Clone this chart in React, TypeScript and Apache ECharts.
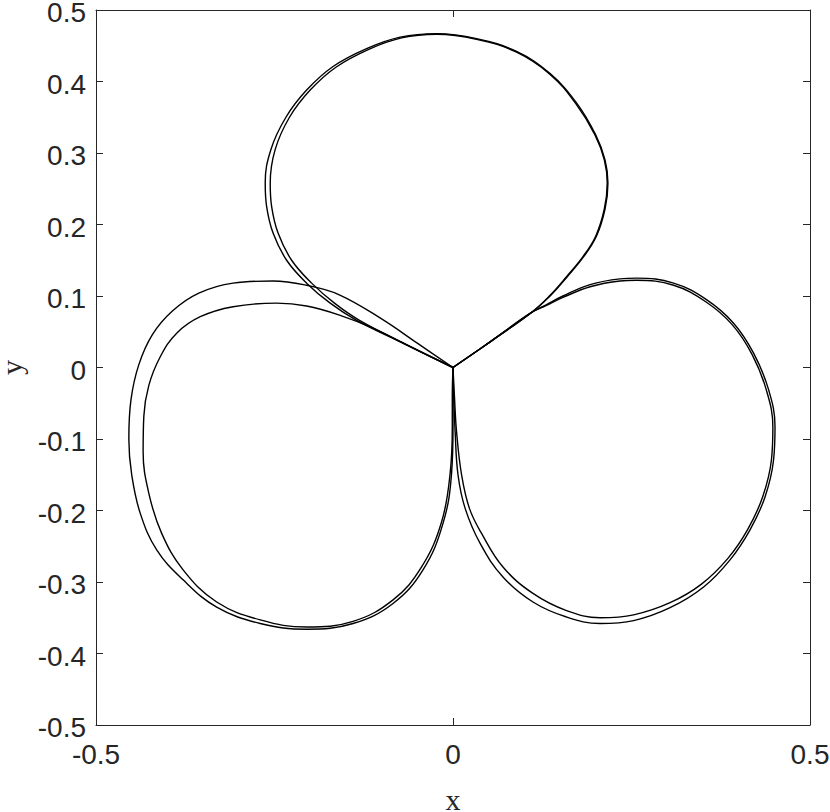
import React, { useEffect, useRef } from "react";
import * as echarts from "echarts";

// Tick values and labels
const xTickValues = [-0.5, 0, 0.5];
const xTickLabels = ["-0.5", "0", "0.5"];
const yTickValues = [-0.5, -0.4, -0.3, -0.2, -0.1, 0, 0.1, 0.2, 0.3, 0.4, 0.5];
const yTickLabels = ["-0.5", "-0.4", "-0.3", "-0.2", "-0.1", "0", "0.1", "0.2", "0.3", "0.4", "0.5"];

// Top lobe, first pass (outer on the left side)
const topLobeA: number[][] = [
  [0, 0], [-0.068, 0.033], [-0.135, 0.066], [-0.172, 0.09], [-0.205, 0.118],
  [-0.233, 0.15], [-0.252, 0.188], [-0.261, 0.225], [-0.263, 0.258], [-0.255, 0.305],
  [-0.234, 0.35], [-0.205, 0.388], [-0.168, 0.421], [-0.121, 0.446], [-0.074, 0.462],
  [-0.023, 0.467], [0.033, 0.46], [0.089, 0.442], [0.136, 0.411], [0.173, 0.37],
  [0.2, 0.325], [0.213, 0.29], [0.217, 0.258], [0.213, 0.222], [0.201, 0.184],
  [0.183, 0.155], [0.16, 0.127], [0.136, 0.1], [0.11, 0.077], [0.055, 0.038], [0, 0],
];

// Top lobe, second pass (inner on the left side)
const topLobeB: number[][] = [
  [0, 0], [-0.067, 0.033], [-0.131, 0.066], [-0.166, 0.09], [-0.198, 0.118],
  [-0.226, 0.15], [-0.245, 0.188], [-0.254, 0.225], [-0.256, 0.258], [-0.249, 0.305],
  [-0.229, 0.35], [-0.2, 0.388], [-0.164, 0.42], [-0.118, 0.445], [-0.072, 0.461],
  [-0.023, 0.466], [0.033, 0.459], [0.089, 0.441], [0.136, 0.41], [0.172, 0.369],
  [0.199, 0.325], [0.212, 0.29], [0.216, 0.258], [0.212, 0.222], [0.2, 0.184],
  [0.182, 0.155], [0.159, 0.127], [0.135, 0.1], [0.11, 0.077], [0.055, 0.038], [0, 0],
];

// Right lobe, first pass (outer)
const rightLobeA: number[][] = [
  [0, 0], [0.055, 0.038], [0.11, 0.077], [0.131, 0.088], [0.154, 0.1], [0.192, 0.116],
  [0.234, 0.124], [0.257, 0.125], [0.309, 0.118], [0.355, 0.095], [0.393, 0.062],
  [0.421, 0.02], [0.442, -0.031], [0.451, -0.083], [0.449, -0.129], [0.437, -0.181],
  [0.416, -0.227], [0.388, -0.269], [0.351, -0.307], [0.304, -0.336], [0.253, -0.354],
  [0.206, -0.358], [0.159, -0.349], [0.112, -0.328], [0.07, -0.293], [0.038, -0.246],
  [0.017, -0.197], [0.007, -0.15], [0.003, -0.09], [0.001, -0.04], [0, 0],
];

// Right lobe, second pass (inner)
const rightLobeB: number[][] = [
  [0, 0], [0.055, 0.038], [0.11, 0.077], [0.131, 0.087], [0.154, 0.098], [0.192, 0.113],
  [0.234, 0.121], [0.257, 0.122], [0.309, 0.115], [0.354, 0.092], [0.391, 0.06],
  [0.419, 0.018], [0.439, -0.032], [0.448, -0.083], [0.446, -0.129], [0.434, -0.18],
  [0.413, -0.226], [0.385, -0.267], [0.348, -0.303], [0.304, -0.329], [0.253, -0.346],
  [0.206, -0.35], [0.159, -0.34], [0.112, -0.316], [0.07, -0.279], [0.04, -0.232],
  [0.023, -0.197], [0.012, -0.15], [0.005, -0.09], [0.002, -0.04], [0, 0],
];

// Left lobe, first pass (outer)
const leftLobeA: number[][] = [
  [0, 0], [0, -0.04], [0, -0.083], [-0.002, -0.148], [-0.014, -0.218], [-0.042, -0.283],
  [-0.084, -0.33], [-0.14, -0.358], [-0.205, -0.366], [-0.27, -0.358], [-0.331, -0.335],
  [-0.378, -0.297], [-0.415, -0.255], [-0.438, -0.204], [-0.45, -0.15], [-0.454, -0.1],
  [-0.451, -0.045], [-0.44, 0.004], [-0.421, 0.046], [-0.393, 0.079], [-0.356, 0.104],
  [-0.308, 0.118], [-0.252, 0.121], [-0.205, 0.115], [-0.16, 0.102], [-0.1, 0.068],
  [-0.05, 0.034], [0, 0],
];

// Left lobe, second pass (inner)
const leftLobeB: number[][] = [
  [0, 0], [-0.001, -0.04], [-0.001, -0.083], [-0.004, -0.148], [-0.016, -0.216],
  [-0.044, -0.279], [-0.084, -0.325], [-0.14, -0.355], [-0.205, -0.363], [-0.27, -0.353],
  [-0.331, -0.328], [-0.378, -0.283], [-0.408, -0.232], [-0.426, -0.176], [-0.434, -0.118],
  [-0.433, -0.068], [-0.426, -0.025], [-0.41, 0.015], [-0.387, 0.048], [-0.354, 0.071],
  [-0.308, 0.085], [-0.247, 0.09], [-0.205, 0.086], [-0.158, 0.073], [-0.112, 0.055],
  [-0.066, 0.032], [0, 0],
];

const curves = [topLobeA, topLobeB, rightLobeA, rightLobeB, leftLobeA, leftLobeB];

const AXIS_COLOR = "#262626";
const LABEL_FONT = "'Liberation Sans', Arial, Helvetica, sans-serif";
const NAME_FONT = "'Liberation Serif', 'Times New Roman', serif";

function labelFor(values: number[], labels: string[], rich: boolean) {
  return (v: number) => {
    const i = values.findIndex((t) => Math.abs(t - v) < 1e-6);
    if (i < 0) return "";
    return rich ? "{t|" + labels[i] + "}" : labels[i];
  };
}

export default function App() {
  const ref = useRef<HTMLDivElement>(null);

  useEffect(() => {
    document.body.style.margin = "0";
    if (!ref.current) return;
    const chart = echarts.init(ref.current, undefined, { renderer: "svg" });

    const axisCommon = {
      type: "value" as const,
      min: -0.5,
      max: 0.5,
      splitLine: { show: false },
      axisLine: { show: true, onZero: false, lineStyle: { color: AXIS_COLOR, width: 1 } },
      axisTick: { show: true, inside: true, length: 7, lineStyle: { color: AXIS_COLOR, width: 1 } },
    };

    chart.setOption({
      animation: false,
      backgroundColor: "#ffffff",
      grid: {
        left: 96,
        right: 20,
        top: 10,
        bottom: 87,
        containLabel: false,
        outerBoundsMode: "none",
      },
      xAxis: [
        {
          ...axisCommon,
          position: "bottom",
          interval: 0.5,
          name: "x",
          nameLocation: "middle",
          nameGap: 59,
          nameTextStyle: { fontFamily: NAME_FONT, fontSize: 30, color: AXIS_COLOR },
          axisLabel: {
            show: true,
            margin: 15,
            fontFamily: LABEL_FONT,
            fontSize: 28,
            color: AXIS_COLOR,
            formatter: labelFor(xTickValues, xTickLabels, false),
          },
        },
        {
          ...axisCommon,
          position: "top",
          interval: 0.5,
          axisLabel: { show: false },
        },
      ],
      yAxis: [
        {
          ...axisCommon,
          position: "left",
          interval: 0.1,
          name: "y",
          nameLocation: "middle",
          nameGap: 68,
          nameTextStyle: { fontFamily: NAME_FONT, fontSize: 30, color: AXIS_COLOR },
          axisLabel: {
            show: true,
            margin: 10,
            fontFamily: LABEL_FONT,
            fontSize: 28,
            color: AXIS_COLOR,
            formatter: labelFor(yTickValues, yTickLabels, true),
            rich: {
              t: {
                fontFamily: LABEL_FONT,
                fontSize: 28,
                color: AXIS_COLOR,
                padding: [5, 0, 0, 0],
              },
            },
          },
        },
        {
          ...axisCommon,
          position: "right",
          interval: 0.1,
          axisLabel: { show: false },
        },
      ],
      series: curves.map((data, i) => ({
        type: "line",
        name: "curve" + i,
        data,
        xAxisIndex: 0,
        yAxisIndex: 0,
        smooth: 0.4,
        showSymbol: false,
        symbol: "none",
        clip: false,
        lineStyle: { color: "#000000", width: 1.4 },
        emphasis: { disabled: true },
      })),
    });

    return () => {
      chart.dispose();
    };
  }, []);

  return <div ref={ref} style={{ width: 830, height: 812 }} />;
}
